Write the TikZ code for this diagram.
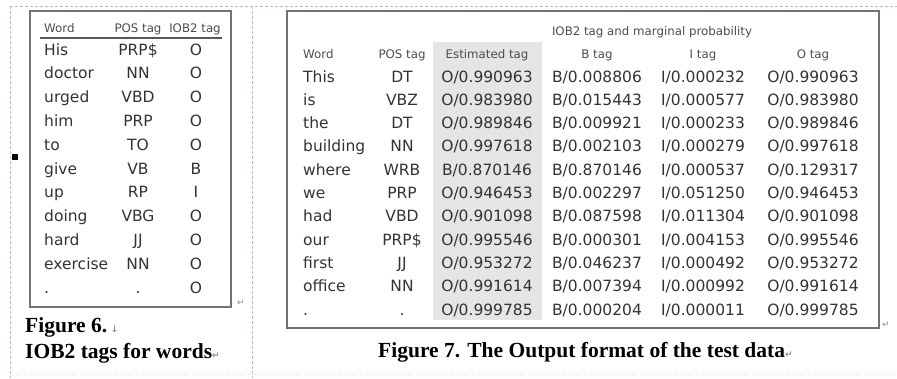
\documentclass[tikz,border=0pt]{standalone}
\usepackage{fontspec}
\setmainfont{Liberation Serif}
\newfontfamily\tabfont{DejaVu Sans}
\tikzset{
  tabtxt/.style={font=\tabfont\fontsize{15.5}{17}\selectfont, text=black!80, inner sep=0pt},
  hdr/.style={font=\tabfont\fontsize{11.8}{13}\selectfont, text=black!70, inner sep=0pt},
  figcap/.style={font=\bfseries\fontsize{21.5}{23}\selectfont, inner sep=0pt, anchor=base west},
  retmark/.style={font=\tabfont\fontsize{9}{10}\selectfont, text=black!45, inner sep=0pt, anchor=base west},
  tabbox/.style={draw=black!55, line width=2pt},
  guide/.style={draw=cyan!25!black!35, line width=0.8pt, dash pattern=on 3pt off 2pt},
}
\begin{document}
\begin{tikzpicture}[x=1pt,y=-1pt]
\useasboundingbox (0,0) rectangle (897,378);
% page guides
\draw[guide] (10,6) -- (897,6);
\draw[guide] (10,6) -- (10,378);
\draw[guide] (252,6) -- (252,378);
\draw[draw=red!15, line width=0.8pt, dotted] (10,374) -- (897,374);
\fill (12,154) rectangle (18,160);
% ---- figure 6: tags per word
\draw[tabbox] (30,11) rectangle (231,307);
\node[hdr, anchor=base west] (h6w) at (44,32) {Word};
\node[hdr, anchor=base] (h6p) at (138,32) {POS tag};
\node[hdr, anchor=base] (h6t) at (195,32) {IOB2 tag};
\draw[draw=black!65, line width=1.5pt] (40,38) -- (222,38);
\foreach \w/\p/\t [count=\i from 0] in {His/PRP\$/O, doctor/NN/O, urged/VBD/O,
    him/PRP/O, to/TO/O, give/VB/B, up/RP/I, doing/VBG/O, hard/JJ/O,
    exercise/NN/O, ././O}{
  \node[tabtxt, anchor=base west] (w\i) at (44,{55+23.8*\i}) {\w};
  \node[tabtxt, anchor=base] (p\i) at (138,{55+23.8*\i}) {\p};
  \node[tabtxt, anchor=base] (iob\i) at (196,{55+23.8*\i}) {\t};
}
\node[retmark] at (237,305) {↵};
\node[figcap] (cap6a) at (25,332) {Figure 6.\,\tabfont\fontsize{9}{10}\selectfont\color{black!45}↓};
\node[figcap] (cap6b) at (25,358) {IOB2 tags for words\tabfont\fontsize{9}{10}\selectfont\color{black!45}↵};
% ---- figure 7: output format
\fill[black!10] (433,42) rectangle (542,320);
\draw[tabbox] (287,11) rectangle (879,328);
\node[hdr, anchor=base] (h7top) at (652,35) {IOB2 tag and marginal probability};
\node[hdr, anchor=base west] (h7w) at (303,58) {Word};
\node[hdr, anchor=base] (h7p) at (402,58) {POS tag};
\node[hdr, anchor=base] (h7e) at (487,58) {Estimated tag};
\node[hdr, anchor=base] (h7b) at (597,58) {B tag};
\node[hdr, anchor=base] (h7i) at (703,58) {I tag};
\node[hdr, anchor=base] (h7o) at (813,58) {O tag};
\foreach \w/\p/\et/\ep/\pB/\pI/\pO [count=\i from 0] in {
    This/DT/O/0.990963/0.008806/0.000232/0.990963,
    is/VBZ/O/0.983980/0.015443/0.000577/0.983980,
    the/DT/O/0.989846/0.009921/0.000233/0.989846,
    building/NN/O/0.997618/0.002103/0.000279/0.997618,
    where/WRB/B/0.870146/0.870146/0.000537/0.129317,
    we/PRP/O/0.946453/0.002297/0.051250/0.946453,
    had/VBD/O/0.901098/0.087598/0.011304/0.901098,
    our/PRP\$/O/0.995546/0.000301/0.004153/0.995546,
    first/JJ/O/0.953272/0.046237/0.000492/0.953272,
    office/NN/O/0.991614/0.007394/0.000992/0.991614,
    ././O/0.999785/0.000204/0.000011/0.999785}{
  \node[tabtxt, anchor=base west] (rw\i) at (303,{82+23.3*\i}) {\w};
  \node[tabtxt, anchor=base] (rp\i) at (402,{82+23.3*\i}) {\p};
  \node[tabtxt, anchor=base] (est\i) at (487,{82+23.3*\i}) {\et/\ep};
  \node[tabtxt, anchor=base] (bt\i) at (597,{82+23.3*\i}) {B/\pB};
  \node[tabtxt, anchor=base] (it\i) at (703,{82+23.3*\i}) {I/\pI};
  \node[tabtxt, anchor=base] (ot\i) at (813,{82+23.3*\i}) {O/\pO};
}
\node[retmark] at (882,327) {↵};
\node[figcap] (cap7) at (378,357) {Figure 7. The Output format of the test data\tabfont\fontsize{9}{10}\selectfont\color{black!45}↵};
\end{tikzpicture}
\end{document}
